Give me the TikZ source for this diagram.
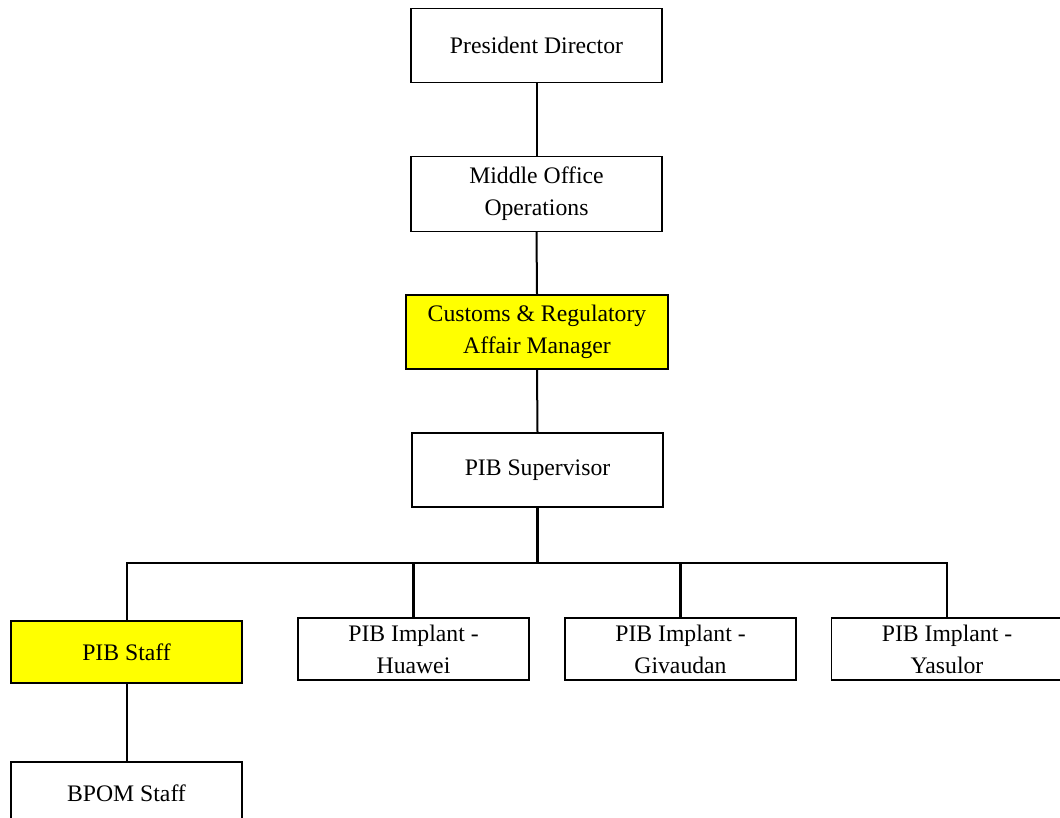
\documentclass[tikz,border=0pt]{standalone}
\usepackage{fontspec}
\setmainfont{Liberation Serif}
\definecolor{hiyellow}{RGB}{255,255,0}

\begin{document}
\begin{tikzpicture}[x=0.5pt,y=-0.5pt,
  box/.style={draw,line width=0.7pt,inner sep=0pt,align=center,
    minimum width=125.5pt,minimum height=37pt,
    font=\fontsize{11.85}{16}\selectfont},
  small/.style={box,minimum width=115.5pt,minimum height=31pt},
  hilite/.style={fill=hiyellow},
  link/.style={line width=1pt},
  trunk/.style={line width=1.4pt}]
  \useasboundingbox (0,0) rectangle (1060,818);
  % management chain
  \node[box] (pres) at (536.5,45.5) {President Director};
  \node[box,minimum height=37.5pt] (mid) at (536.5,194) {Middle Office\\Operations};
  \node[box,hilite,minimum width=131pt] (cra) at (537,332) {Customs \& Regulatory\\Affair Manager};
  \node[box] (sup) at (537.5,470) {PIB Supervisor};
  \coordinate (bus) at (537.5,563);
  % staff row
  \node[small,hilite] (staff) at (126.5,652) {PIB Staff};
  \foreach \x/\name/\lab in {413.5/huawei/Huawei,680.5/givaudan/Givaudan,947/yasulor/Yasulor}{
    \node[small] (\name) at (\x,649) {PIB Implant -\\\lab};
  }
  \node[small] (bpom) at (126.5,793) {BPOM Staff};

  \draw[link] (pres.south) -- (mid.north);
  \draw[link] (mid.south) -- (cra.north);
  \draw[link] (cra.south) -- (sup.north);
  \draw[trunk] (sup.south) -- (bus);
  \draw[link] (bus) -| (staff.north);
  \draw[link] (bus) -| (yasulor.north);
  \draw[trunk] (huawei.north) |- (bus) -| (givaudan.north);
  \draw[link] (staff.south) -- (bpom.north);
\end{tikzpicture}
\end{document}
